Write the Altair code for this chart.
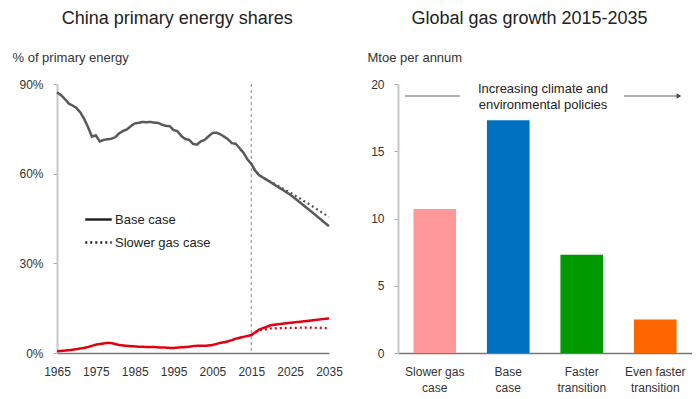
import altair as alt
import pandas as pd

FONT = "Liberation Sans"

# ---------------- Left panel data ----------------
years_hist = list(range(1965, 2016))
coal_hist = [87.2, 86.3, 85.0, 83.5, 82.8, 82.0, 80.5, 78.3, 75.5, 72.4,
             72.8, 70.8, 71.3, 71.5, 71.7, 72.2, 73.5, 74.3, 74.8, 75.9,
             76.8, 77.0, 77.3, 77.2, 77.3, 77.1, 77.0, 76.4, 76.0, 75.9,
             74.6, 74.2, 72.6, 71.6, 71.3, 70.0, 69.7, 70.8, 71.3, 72.5,
             73.6, 73.7, 73.2, 72.4, 71.5, 70.2, 70.0, 68.5, 67.0, 64.8,
             63.3]
gas_hist = [0.6, 0.7, 0.8, 0.9, 1.1, 1.3, 1.5, 1.7, 2.0, 2.4,
            2.8, 3.0, 3.2, 3.4, 3.3, 3.0, 2.7, 2.5, 2.4, 2.3,
            2.2, 2.1, 2.1, 2.0, 2.0, 2.0, 1.9, 1.8, 1.8, 1.7,
            1.7, 1.8, 1.9, 2.0, 2.1, 2.3, 2.4, 2.4, 2.4, 2.5,
            2.7, 3.0, 3.4, 3.6, 3.9, 4.3, 4.8, 5.1, 5.4, 5.7,
            6.0]
years_proj = [2015, 2016, 2017, 2020, 2025, 2030, 2035]
coal_base_proj = [63.3, 61.0, 59.5, 57.1, 53.0, 47.8, 42.4]
coal_slow_proj = [63.3, 61.0, 59.5, 57.3, 53.7, 49.7, 45.5]
gas_base_proj = [6.0, 6.9, 7.8, 9.3, 10.1, 10.8, 11.6]
gas_slow_proj = [6.0, 6.9, 7.6, 8.2, 8.4, 8.5, 8.3]

scenarios = ["Base case", "Slower gas case"]
fuels = ["Coal", "Gas"]
fuel_colors = ["#595959", "#e3000f"]
split_year = [2015]

left_title = "China primary energy shares"
left_unit = "% of primary energy"
left_x_ticks = [1965, 1975, 1985, 1995, 2005, 2015, 2025, 2035]
left_y_ticks = [0, 30, 60, 90]

# ---------------- Right panel data ----------------
bar_cats = ["Slower gas case", "Base case", "Faster transition", "Even faster transition"]
bar_label_lines = [["Slower gas", "case"], ["Base", "case"],
                   ["Faster", "transition"], ["Even faster", "transition"]]
bar_values = [10.7, 17.3, 7.3, 2.5]
bar_colors = ["#ff9999", "#0070c0", "#009900", "#ff6600"]
right_title = "Global gas growth 2015-2035"
right_unit = "Mtoe per annum"
right_y_ticks = [0, 5, 10, 15, 20]
arrow_text = ["Increasing climate and", "environmental policies"]

# ---------------- Build tables ----------------
base_rows = []
for fuel, hist, proj in [("Coal", coal_hist, coal_base_proj), ("Gas", gas_hist, gas_base_proj)]:
    for y, v in zip(years_hist, hist):
        base_rows.append({"year": y, "share": v, "fuel": fuel, "scenario": "Base case"})
    for y, v in zip(years_proj[1:], proj[1:]):
        base_rows.append({"year": y, "share": v, "fuel": fuel, "scenario": "Base case"})
slow_rows = []
for fuel, proj in [("Coal", coal_slow_proj), ("Gas", gas_slow_proj)]:
    for y, v in zip(years_proj, proj):
        slow_rows.append({"year": y, "share": v, "fuel": fuel, "scenario": "Slower gas case"})
df_base = pd.DataFrame(base_rows)
df_slow = pd.DataFrame(slow_rows)
df_split = pd.DataFrame({"year": split_year})
df_bar = pd.DataFrame({"scenario": bar_cats, "growth": bar_values})
df_ann = pd.DataFrame({"note": [" ".join(arrow_text)]})

TXT = "#333333"

x_left = alt.X("year:Q",
               scale=alt.Scale(domain=[1965, 2035], nice=False, zero=False),
               axis=alt.Axis(values=left_x_ticks, format="d", title=None, grid=False,
                             ticks=False, labelPadding=13, labelFontSize=12,
                             labelColor=TXT, domainColor="#777777", domainWidth=1.5,
                             labelFlush=False))
y_left = alt.Y("share:Q",
               scale=alt.Scale(domain=[0, 90], nice=False),
               axis=alt.Axis(values=left_y_ticks, labelExpr="datum.value + '%'",
                             title=left_unit, titleAngle=0, titleAlign="left",
                             titleBaseline="alphabetic", titleX=-45, titleY=-23,
                             titleFontSize=13, titleFontWeight="normal", titleColor=TXT,
                             grid=False, domainColor="#c8c8c8", domainWidth=2,
                             tickColor="#aaaaaa", tickSize=4, labelPadding=10,
                             labelFontSize=12, labelColor=TXT))
color_enc = alt.Color("fuel:N", scale=alt.Scale(domain=fuels, range=fuel_colors), legend=None)
dash_enc = alt.StrokeDash("scenario:N",
                          scale=alt.Scale(domain=scenarios, range=[[1, 0], [2, 3]]),
                          legend=alt.Legend(title=None, orient="none", legendX=27, legendY=121,
                                            symbolType="stroke", symbolStrokeColor="#222222",
                                            symbolStrokeWidth=2.5, symbolSize=700,
                                            labelFontSize=13, labelColor="#222222",
                                            labelOffset=2, rowPadding=1, padding=0))

vline = alt.Chart(df_split).mark_rule(color="#888888", strokeWidth=1, strokeDash=[3, 3]).encode(x=x_left)
slow_lines = alt.Chart(df_slow).mark_line(strokeWidth=2.2).encode(
    x=x_left, y=y_left, color=color_enc, strokeDash=dash_enc, detail="fuel:N")
base_lines = alt.Chart(df_base).mark_line(strokeWidth=2.5).encode(
    x=x_left, y=y_left, color=color_enc, strokeDash=dash_enc, detail="fuel:N")

left = alt.layer(vline, slow_lines, base_lines).properties(
    width=272, height=269,
    title=alt.TitleParams(left_title, fontSize=18, fontWeight="normal", anchor="middle",
                          frame="bounds", color="#222222", offset=23))

# ---------------- Right panel ----------------
label_expr = " : ".join(
    f"datum.label == '{c}' ? {lines!r}" for c, lines in zip(bar_cats, bar_label_lines)
) + " : datum.label"

x_right = alt.X("scenario:N", sort=bar_cats,
                scale=alt.Scale(paddingInner=0.42, paddingOuter=0.21),
                axis=alt.Axis(title=None, labelAngle=0, ticks=False, labelExpr=label_expr,
                              labelPadding=13, labelFontSize=12, labelColor=TXT,
                              labelLineHeight=16, domainColor="#777777", domainWidth=1.5))
y_right = alt.Y("growth:Q", scale=alt.Scale(domain=[0, 20], nice=False),
                axis=alt.Axis(values=right_y_ticks, title=right_unit, titleAngle=0,
                              titleAlign="left", titleBaseline="alphabetic",
                              titleX=-31, titleY=-23, titleFontSize=13,
                              titleFontWeight="normal", titleColor=TXT, grid=False,
                              domainColor="#c8c8c8", domainWidth=2, tickColor="#aaaaaa",
                              tickSize=4, labelPadding=10, labelFontSize=12, labelColor=TXT))

bars = alt.Chart(df_bar).mark_bar().encode(
    x=x_right, y=y_right,
    color=alt.Color("scenario:N", scale=alt.Scale(domain=bar_cats, range=bar_colors), legend=None))

ann_src = alt.Chart(df_ann)
rule_l = ann_src.mark_rule(color="#666666", strokeWidth=1.2).encode(
    x=alt.value(7), x2=alt.value(62), y=alt.value(12))
rule_r = ann_src.mark_rule(color="#666666", strokeWidth=1.2).encode(
    x=alt.value(226), x2=alt.value(280), y=alt.value(12))
head = ann_src.mark_point(shape="triangle-right", filled=True, size=28, color="#444444", opacity=1).encode(
    x=alt.value(281), y=alt.value(12))
ann_text = ann_src.mark_text(fontSize=13, color="#222222", align="center", baseline="middle",
                             lineHeight=16).encode(
    x=alt.value(145), y=alt.value(5), text=alt.value(arrow_text))

right = alt.layer(bars, rule_l, rule_r, head, ann_text).properties(
    width=294, height=269,
    title=alt.TitleParams(right_title, fontSize=18, fontWeight="normal", anchor="middle",
                          frame="bounds", color="#222222", offset=23))

chart = alt.hconcat(left, right, spacing=24).resolve_scale(
    color="independent", strokeDash="independent"
).properties(
    padding={"left": 4, "top": 2, "right": 0, "bottom": 0}
).configure(font=FONT).configure_view(stroke=None)

chart.save("out.html", embed_options={"renderer": "svg", "actions": False})
